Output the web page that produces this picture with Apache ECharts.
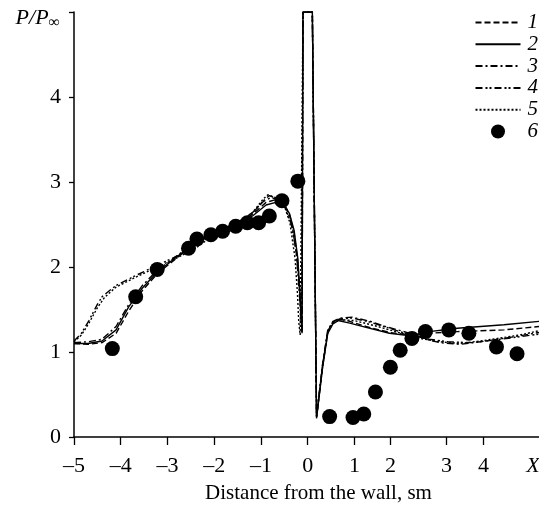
<!DOCTYPE html>
<html>
<head>
<meta charset="utf-8">
<script src="https://cdn.jsdelivr.net/npm/echarts@6/dist/echarts.min.js"></script>
<style>
html, body { margin: 0; padding: 0; background: #fff; }
#chart { width: 539px; height: 506px; }
</style>
</head>
<body>
<div id="chart"></div>
<script>
// x tick positions (axis units) and their printed labels
var xTickVals = [-5, -4, -3, -2, -1, 0, 1, 1.77, 2.97, 3.76];
var xTickLabels = ['–5', '–4', '–3', '–2', '–1', '0', '1', '2', '3', '4'];
var xEndLabelVal = 4.82;
var xEndLabel = 'X';

var curve1 = [[-5,1.10],[-4.7,1.09],[-4.4,1.11],[-4.1,1.22],[-3.83,1.48],[-3.54,1.72],[-3.22,1.92],[-2.68,2.16],[-2.32,2.30],[-1.97,2.40],[-1.54,2.49],[-1.18,2.62],[-0.89,2.76],[-0.7,2.79],[-0.5,2.74],[-0.39,2.62],[-0.29,2.40],[-0.21,2.05],[-0.16,1.6],[-0.12,1.25],[-0.10,5.0],[0.10,5.0],[0.19,0.24],[0.32,0.85],[0.43,1.25],[0.54,1.35],[0.65,1.39],[0.9,1.36],[1.25,1.30],[1.75,1.23],[2.2,1.20],[2.6,1.22],[3.2,1.24],[4.2,1.26],[4.95,1.30]];
var curve2 = [[-5,1.10],[-4.7,1.10],[-4.4,1.13],[-4.1,1.26],[-3.83,1.53],[-3.54,1.75],[-3.22,1.94],[-2.68,2.17],[-2.32,2.31],[-1.97,2.40],[-1.54,2.48],[-1.18,2.60],[-0.89,2.73],[-0.68,2.76],[-0.5,2.72],[-0.39,2.63],[-0.29,2.43],[-0.21,2.10],[-0.16,1.65],[-0.12,1.22],[-0.10,5.0],[0.10,5.0],[0.19,0.22],[0.32,0.82],[0.43,1.22],[0.54,1.33],[0.65,1.37],[0.9,1.34],[1.25,1.29],[1.75,1.22],[2.2,1.19],[2.6,1.24],[3.2,1.28],[4.2,1.32],[4.95,1.36]];
var curve3 = [[-5,1.11],[-4.7,1.12],[-4.4,1.15],[-4.1,1.30],[-3.83,1.56],[-3.54,1.78],[-3.22,1.96],[-2.68,2.18],[-2.32,2.32],[-1.97,2.42],[-1.54,2.51],[-1.18,2.64],[-0.95,2.77],[-0.78,2.82],[-0.6,2.78],[-0.45,2.68],[-0.33,2.48],[-0.24,2.15],[-0.18,1.7],[-0.13,1.3],[-0.10,5.0],[0.10,5.0],[0.19,0.25],[0.32,0.86],[0.43,1.26],[0.54,1.36],[0.7,1.40],[0.95,1.41],[1.35,1.36],[1.6,1.31],[2.19,1.22],[2.6,1.14],[2.83,1.11],[3.26,1.09],[3.83,1.13],[4.54,1.19],[4.95,1.23]];
var curve4 = [[-5,1.13],[-4.84,1.22],[-4.68,1.37],[-4.5,1.56],[-4.40,1.65],[-4.11,1.78],[-3.68,1.90],[-3.18,2.03],[-2.75,2.14],[-2.40,2.24],[-1.97,2.40],[-1.54,2.50],[-1.18,2.63],[-0.95,2.78],[-0.82,2.84],[-0.65,2.80],[-0.48,2.70],[-0.35,2.50],[-0.25,2.2],[-0.18,1.8],[-0.14,1.4],[-0.12,1.22],[-0.10,5.0],[0.10,5.0],[0.19,0.23],[0.32,0.84],[0.43,1.24],[0.54,1.35],[0.7,1.39],[0.95,1.40],[1.35,1.35],[1.75,1.28],[2.19,1.20],[2.6,1.15],[3.0,1.12],[3.5,1.11],[4.0,1.14],[4.54,1.18],[4.95,1.21]];
var curve5 = [[-5,1.12],[-4.84,1.2],[-4.68,1.34],[-4.5,1.52],[-4.35,1.64],[-4.11,1.76],[-3.68,1.88],[-3.18,2.01],[-2.75,2.12],[-2.40,2.22],[-1.97,2.39],[-1.54,2.50],[-1.18,2.64],[-0.95,2.80],[-0.85,2.85],[-0.7,2.82],[-0.5,2.72],[-0.38,2.52],[-0.27,2.1],[-0.22,1.7],[-0.19,1.35],[-0.16,1.2],[-0.10,5.0],[0.10,5.0],[0.19,0.24],[0.32,0.83],[0.43,1.23],[0.54,1.34],[0.7,1.38],[1.0,1.37],[1.5,1.30],[2.0,1.22],[2.4,1.16],[2.83,1.12],[3.26,1.10],[3.83,1.14],[4.54,1.20],[4.95,1.25]];
// experiment (filled dots)
var expX = [-4.18,-3.68,-3.22,-2.55,-2.37,-2.07,-1.82,-1.54,-1.29,-1.05,-0.82,-0.55,-0.21,0.47,0.97,1.20,1.45,1.77,1.98,2.23,2.52,3.02,3.45,4.04,4.48];
var expY = [1.04,1.65,1.97,2.22,2.33,2.38,2.42,2.48,2.52,2.52,2.60,2.78,3.01,0.24,0.23,0.27,0.53,0.82,1.02,1.16,1.24,1.26,1.22,1.06,0.98];

var serif = '"Liberation Serif", "DejaVu Serif", serif';
var chart = echarts.init(document.getElementById('chart'));

function lineSeries(name, data, dash) {
  return {
    name: name,
    type: 'line',
    data: data,
    symbol: 'none',
    itemStyle: { color: '#000', opacity: 0 },
    lineStyle: { color: '#000', width: 1.4, type: dash, opacity: 1 }
  };
}

var option = {
  animation: false,
  backgroundColor: '#fff',
  grid: { left: 74, right: 0, top: 12, bottom: 69, outerBoundsMode: 'none', containLabel: false },
  legend: {
    orient: 'vertical',
    right: -4,
    top: 7,
    itemWidth: 45,
    itemHeight: 14,
    itemGap: 0.8,
    align: 'left',
    textStyle: { fontFamily: serif, fontStyle: 'italic', fontSize: 21, color: '#000', padding: [0, 0, 0, 2] },
    data: ['1', '2', '3', '4', '5', '6']
  },
  xAxis: {
    type: 'value',
    min: -5,
    max: 4.95,
    name: 'Distance from the wall, sm',
    nameLocation: 'middle',
    nameGap: 46,
    nameTextStyle: { fontFamily: serif, fontSize: 21, color: '#000', padding: [0, 0, 0, 24] },
    axisLine: { onZero: false, lineStyle: { color: '#000', width: 1.5 } },
    axisTick: { length: 8, lineStyle: { color: '#000', width: 1.3 }, customValues: xTickVals },
    axisLabel: {
      customValues: xTickVals.concat([xEndLabelVal]),
      margin: 18,
      fontFamily: serif,
      fontSize: 22,
      color: '#000',
      formatter: function (v) {
        if (Math.abs(v - xEndLabelVal) < 1e-6) return '{i|' + xEndLabel + '}';
        for (var i = 0; i < xTickVals.length; i++) {
          if (Math.abs(v - xTickVals[i]) < 1e-6) return xTickLabels[i];
        }
        return '';
      },
      rich: { i: { fontFamily: serif, fontStyle: 'italic', fontSize: 22, color: '#000' } }
    },
    splitLine: { show: false }
  },
  yAxis: {
    type: 'value',
    min: 0,
    max: 5,
    interval: 1,
    name: '{a|P/P}{b|∞}',
    nameLocation: 'end',
    nameGap: -6,
    nameTextStyle: {
      align: 'right',
      verticalAlign: 'middle',
      padding: [0, 14, 0, 0],
      rich: {
        a: { fontFamily: serif, fontStyle: 'italic', fontSize: 22, color: '#000' },
        b: { fontFamily: serif, fontSize: 16, color: '#000', padding: [10, 0, 0, 0] }
      }
    },
    axisLine: { show: true, onZero: false, lineStyle: { color: '#000', width: 1.5 } },
    axisTick: { show: true, length: 5, lineStyle: { color: '#000', width: 1.3 } },
    axisLabel: {
      margin: 13,
      fontFamily: serif,
      fontSize: 22,
      color: '#000',
      formatter: function (v) { return v === 5 ? '' : String(v); }
    },
    splitLine: { show: false }
  },
  series: [
    lineSeries('1', curve1, [6, 3]),
    lineSeries('2', curve2, 'solid'),
    lineSeries('3', curve3, [7, 3, 2, 3]),
    lineSeries('4', curve4, [7, 3, 2, 2, 2, 3]),
    lineSeries('5', curve5, [2, 2]),
    {
      name: '6',
      type: 'scatter',
      symbol: 'circle',
      symbolSize: 15,
      itemStyle: { color: '#000', opacity: 1 },
      data: expX.map(function (x, i) { return [x, expY[i]]; }),
      z: 5
    }
  ]
};

chart.setOption(option);
</script>
</body>
</html>
